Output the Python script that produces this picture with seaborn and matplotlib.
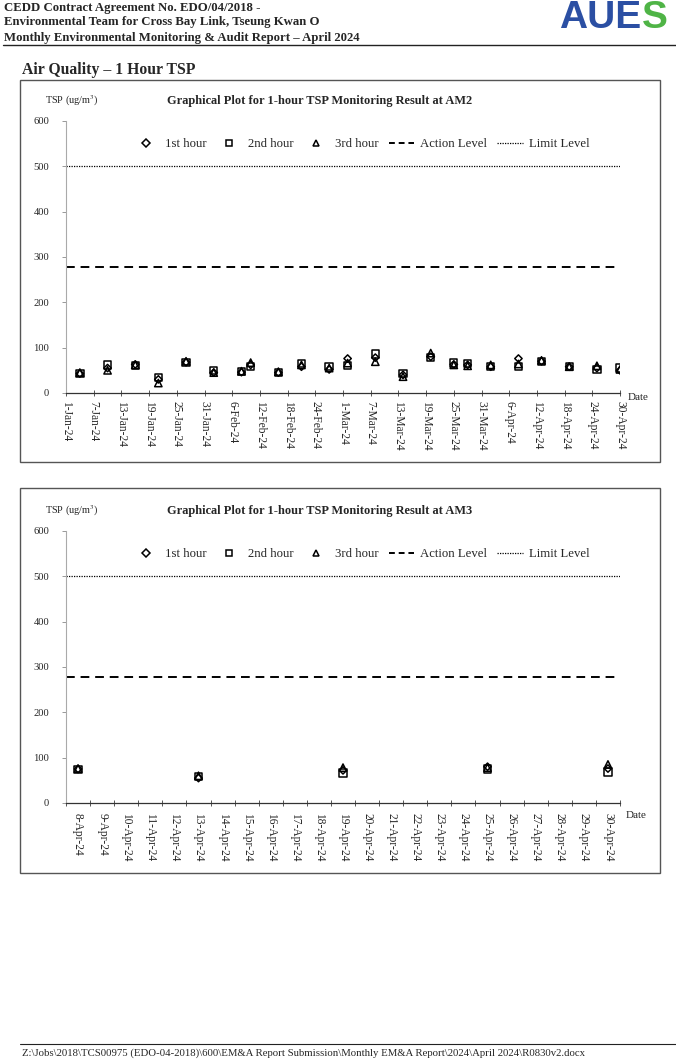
import matplotlib
matplotlib.use("Agg")
import matplotlib.pyplot as plt
from matplotlib.lines import Line2D
from matplotlib.patches import Rectangle
import seaborn as sns
import pandas as pd
import numpy as np

# ---------------- data ----------------
am2_dates = ['2024-01-04', '2024-01-10', '2024-01-16', '2024-01-21', '2024-01-27',
             '2024-02-02', '2024-02-08', '2024-02-10', '2024-02-16', '2024-02-21',
             '2024-02-27', '2024-03-02', '2024-03-08', '2024-03-14', '2024-03-20',
             '2024-03-25', '2024-03-28', '2024-04-02', '2024-04-08', '2024-04-13',
             '2024-04-19', '2024-04-25', '2024-04-30']
am2_1st = [43, 55, 63, 30, 68, 45, 46, 62, 45, 58, 52, 76, 78, 40, 80, 63, 62, 58, 76, 70, 58, 55, 50]
am2_2nd = [43, 62, 60, 34, 67, 50, 47, 58, 45, 65, 58, 60, 86, 43, 78, 66, 65, 59, 58, 70, 59, 52, 55]
am2_3rd = [45, 50, 62, 22, 70, 45, 48, 67, 47, 62, 55, 66, 69, 36, 88, 62, 60, 62, 64, 72, 58, 60, 52]

am3_categories = ['8-Apr-24', '9-Apr-24', '10-Apr-24', '11-Apr-24', '12-Apr-24', '13-Apr-24',
                  '14-Apr-24', '15-Apr-24', '16-Apr-24', '17-Apr-24', '18-Apr-24', '19-Apr-24',
                  '20-Apr-24', '21-Apr-24', '22-Apr-24', '23-Apr-24', '24-Apr-24', '25-Apr-24',
                  '26-Apr-24', '27-Apr-24', '28-Apr-24', '29-Apr-24', '30-Apr-24']
am3_dates = ['8-Apr-24', '13-Apr-24', '19-Apr-24', '25-Apr-24', '30-Apr-24']
am3_1st = [75, 55, 72, 80, 76]
am3_2nd = [74, 58, 66, 75, 68]
am3_3rd = [76, 60, 78, 78, 85]

action_level = 278
limit_level = 500
y_ticks = [0, 100, 200, 300, 400, 500, 600]

series_names = ['1st hour', '2nd hour', '3rd hour']
series_markers = ['D', 's', '^']
series_sizes = [14, 28, 28]

# ---------------- style ----------------
sns.set_style("ticks")
plt.rcParams['font.family'] = ['Liberation Serif', 'DejaVu Serif']
plt.rcParams['mathtext.fontset'] = 'stix'

W, H = 676, 1060
fig = plt.figure(figsize=(W / 100, H / 100), dpi=100)


def fx(px):
    return px / W


def fy(py):
    return 1 - py / H


# header
hdr = ["CEDD Contract Agreement No. EDO/04/2018 -",
       "Environmental Team for Cross Bay Link, Tseung Kwan O",
       "Monthly Environmental Monitoring & Audit Report \u2013 April 2024"]
for i, t in enumerate(hdr):
    fig.text(fx(4), fy(7.5 + 15 * i), t, fontsize=9.2, fontweight='bold', va='center', ha='left')
fig.add_artist(Line2D([fx(3), fx(676)], [fy(44.5), fy(44.5)], color='#222222', lw=1.0))
fig.text(fx(559), fy(18.5), "AUE", fontsize=28, fontweight='bold', color='#2b4fa3',
         family='Liberation Sans', va='center', ha='left')
fig.text(fx(642), fy(18.5), "S", fontsize=28, fontweight='bold', color='#4fb446',
         family='Liberation Sans', va='center', ha='left')
fig.text(fx(22), fy(70), "Air Quality \u2013 1 Hour TSP", fontsize=11.3, fontweight='bold',
         va='center', ha='left')

# footer
fig.add_artist(Line2D([fx(20), fx(676)], [fy(1044), fy(1044)], color='#222222', lw=0.8))
fig.text(fx(22), fy(1053), r"Z:\Jobs\2018\TCS00975 (EDO-04-2018)\600\EM&A Report Submission\Monthly EM&A Report\2024\April 2024\R0830v2.docx",
         fontsize=7.75, va='center', ha='left')

# chart boxes
for (x0, y0, x1, y1) in [(20, 80, 660, 462), (20, 488, 660, 873)]:
    fig.add_artist(Rectangle((fx(x0), fy(y1)), fx(x1 - x0), (y1 - y0) / H,
                             fill=False, ec='#555555', lw=1.0, transform=fig.transFigure))


def style_axis(ax):
    ax.set_ylim(0, 600)
    ax.set_yticks(y_ticks)
    ax.set_yticklabels([str(v) for v in y_ticks], fontsize=7.6)
    for s in ['top', 'right']:
        ax.spines[s].set_visible(False)
    ax.spines['left'].set_color('#aaaaaa')
    ax.spines['left'].set_linewidth(0.8)
    ax.spines['bottom'].set_color('#333333')
    ax.spines['bottom'].set_linewidth(0.9)
    ax.tick_params(axis='y', length=3, width=0.6, color='#888888', pad=9)
    ax.set_xlabel('')
    ax.set_ylabel('')
    ax.axhline(action_level, color='black', lw=1.4, ls=(0, (4.5, 3)))
    ax.axhline(limit_level, color='black', lw=0.9, ls=(0, (1, 1)))
    handles = []
    for nm, mk in zip(series_names, series_markers):
        handles.append(Line2D([], [], ls='none', marker=mk, markersize=4.8 if mk != 'D' else 3.8,
                              mfc='none', mec='black', mew=1.1))
    handles.append(Line2D([], [], color='black', lw=1.4, ls=(0, (3, 2))))
    handles.append(Line2D([], [], color='black', lw=0.9, ls=(0, (1, 1))))
    ax.legend(handles, series_names + ['Action Level', 'Limit Level'], ncol=5,
              loc='center', bbox_to_anchor=(0.533, 0.915), frameon=False, fontsize=9.2,
              handlelength=2.0, handletextpad=0.45, columnspacing=0.8)


def scatter_series(ax, x, ys):
    for y, mk, sz in zip(ys, series_markers, series_sizes):
        df = pd.DataFrame({'x': x, 'y': y})
        sns.scatterplot(data=df, x='x', y='y', marker=mk, s=sz, facecolor='none',
                        edgecolor='black', linewidth=1.1, ax=ax, legend=False, zorder=3)


# ---------------- chart 1: AM2 ----------------
ax1 = fig.add_axes([fx(66), fy(393), fx(620 - 66), (393 - 121) / H])
x1 = pd.to_datetime(am2_dates)
scatter_series(ax1, x1, [am2_1st, am2_2nd, am2_3rd])
style_axis(ax1)
tick_dates = pd.date_range('2024-01-01', '2024-04-30', freq='6D')
ax1.set_xlim(pd.Timestamp('2024-01-01'), pd.Timestamp('2024-04-30'))
ax1.set_xticks(tick_dates)
ax1.set_xticklabels([f"{d.day}-{d.strftime('%b')}-24" for d in tick_dates],
                    rotation=270, fontsize=8.3, va='top', ha='center')
ax1.tick_params(axis='x', length=5, width=0.7, direction='inout', color='#555555', pad=3)
fig.text(fx(45), fy(101), r"TSP (ug/m$^3$)", fontsize=7.4, va='center', ha='left')
fig.text(fx(320), fy(101), "Graphical Plot for 1-hour TSP Monitoring Result at AM2",
         fontsize=8.9, fontweight='bold', va='center', ha='center')
fig.text(fx(628), fy(398), "Date", fontsize=8, va='center', ha='left')

# ---------------- chart 2: AM3 ----------------
ax2 = fig.add_axes([fx(66), fy(803), fx(620 - 66), (803 - 531) / H])
x2 = [am3_categories.index(d) for d in am3_dates]
scatter_series(ax2, x2, [am3_1st, am3_2nd, am3_3rd])
style_axis(ax2)
ax2.set_xlim(-0.5, len(am3_categories) - 0.5)
ax2.set_xticks(np.arange(len(am3_categories)))
ax2.set_xticklabels(am3_categories, rotation=270, fontsize=8.3, va='top', ha='center')
ax2.tick_params(axis='x', which='major', length=0, pad=7)
ax2.set_xticks(np.arange(-0.5, len(am3_categories)), minor=True)
ax2.tick_params(axis='x', which='minor', length=5, width=0.7, direction='inout', color='#555555')
fig.text(fx(45), fy(511), r"TSP (ug/m$^3$)", fontsize=7.4, va='center', ha='left')
fig.text(fx(320), fy(511), "Graphical Plot for 1-hour TSP Monitoring Result at AM3",
         fontsize=8.9, fontweight='bold', va='center', ha='center')
fig.text(fx(626), fy(815), "Date", fontsize=8, va='center', ha='left')

fig.savefig("out.png", dpi=100)
